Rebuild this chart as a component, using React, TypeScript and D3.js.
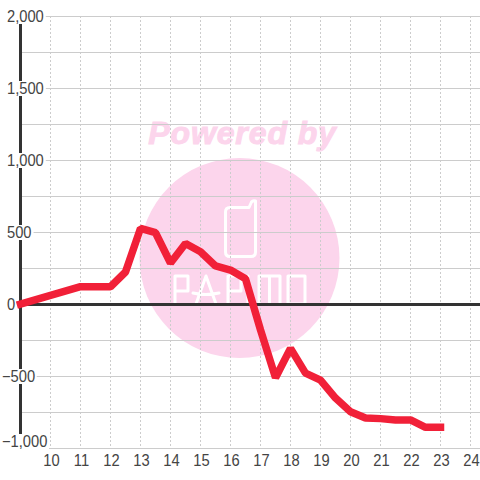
import React from "react";
import * as d3 from "d3";

const hours = [9, 11, 12, 12.5, 13, 13.5, 14, 14.5, 15, 15.5, 16, 16.5, 17, 17.5, 18, 18.5, 19, 19.5, 20, 20.5, 21, 21.5, 22, 22.5, 23];
const values = [0, 120, 120, 222, 525, 495, 285, 420, 363, 264, 236, 175, -180, -512, -308, -480, -528, -653, -748, -792, -796, -805, -805, -856, -856];
const xTicks = [10, 11, 12, 13, 14, 15, 16, 17, 18, 19, 20, 21, 22, 23, 24];
const yMajor = [2000, 1500, 1000, 500, 0, -500, -1000];
const yMinor = [1750, 1250, 750, 250, -250, -750];

const x = d3.scaleLinear().domain([10, 24]).range([50.5, 470.5]);
const y = d3.scaleLinear().domain([-1000, 2000]).range([448, 16]);
const fmt = d3.format(",");
const pts: [number, number][] = hours.map((h, i) => [x(h), y(values[i])]);
const line = d3.line();
const font = "'Liberation Sans', Arial, sans-serif";

const labelY = (v: number) => (v === -1000 ? y(v) - 1 : y(v) + 6);
const labelX = (v: number) => (v < 0 ? 2 : 7);
const labelW = (s: string) =>
  Array.from(s).reduce((w, c) => w + (c === "," ? 4.09 : c === "-" ? 4.9 : 8.18), 0);

export default function App() {
  return (
    <svg width={480} height={480} style={{ position: "absolute", left: 0, top: 0, background: "#fff" }}>
      <text x={242.5} y={144} textAnchor="middle" fontFamily={font} fontWeight="bold" fontStyle="italic" fontSize={32} letterSpacing={0.9} fill="#fcd5ec" stroke="#fcd5ec" strokeWidth={1}>Powered by</text>
      <circle cx={239.5} cy={258} r={100} fill="#fcd5ec" />
      <g fill="none" stroke="#fff" strokeWidth={3} strokeLinejoin="round" strokeLinecap="round">
        <path d="M230 207.500H249L251.500 202Q253 200 255.500 201V252Q255.500 256.500 251 256.500H230Q225.500 256.500 225.500 252V212Q225.500 207.500 230 207.500Z" />
        <path d="M175 304V276H188V291H175" />
        <path d="M196 304L206 276L216 304M193 293Q205 296 219 293" />
        <path d="M228 304V276H241V291H228" />
        <path d="M248 276V304" />
        <path d="M259 304V276H280V304M269.500 276V304" />
        <path d="M288 276H305V304H288Z" />
      </g>
      {[...yMinor, ...yMajor].map((v) => <line key={v} x1={20} x2={480} y1={y(v) + 0.5} y2={y(v) + 0.5} stroke="#ccc" />)}
      {xTicks.map((t) => <line key={t} x1={x(t)} x2={x(t)} y1={16} y2={448} stroke="#ccc" strokeDasharray="2 2" />)}
      <line x1={20.5} x2={20.5} y1={16} y2={448} stroke="#333" strokeWidth={3} />
      <line x1={20} x2={480} y1={304.5} y2={304.5} stroke="#333" strokeWidth={3} />
      {yMajor.map((v) => (
        <rect key={v} x={labelX(v) - 1} y={labelY(v) - 13} width={labelW(fmt(v)) + 3} height={15} fill="#fff" />
      ))}
      <path d={line(pts) ?? ""} fill="none" stroke="#f12038" strokeWidth={7.5} strokeLinejoin="bevel" strokeLinecap="square" />
      {yMajor.map((v) => (
        <text key={v} transform={`translate(${labelX(v)},${labelY(v)}) scale(0.92,1)`} fontFamily={font} fontSize={16} fill="#444">{fmt(v)}</text>
      ))}
      {xTicks.map((t) => (
        <text key={t} transform={`translate(${x(t) + 1},466) scale(0.92,1)`} textAnchor="middle" fontFamily={font} fontSize={16} fill="#444">{t}</text>
      ))}
    </svg>
  );
}
